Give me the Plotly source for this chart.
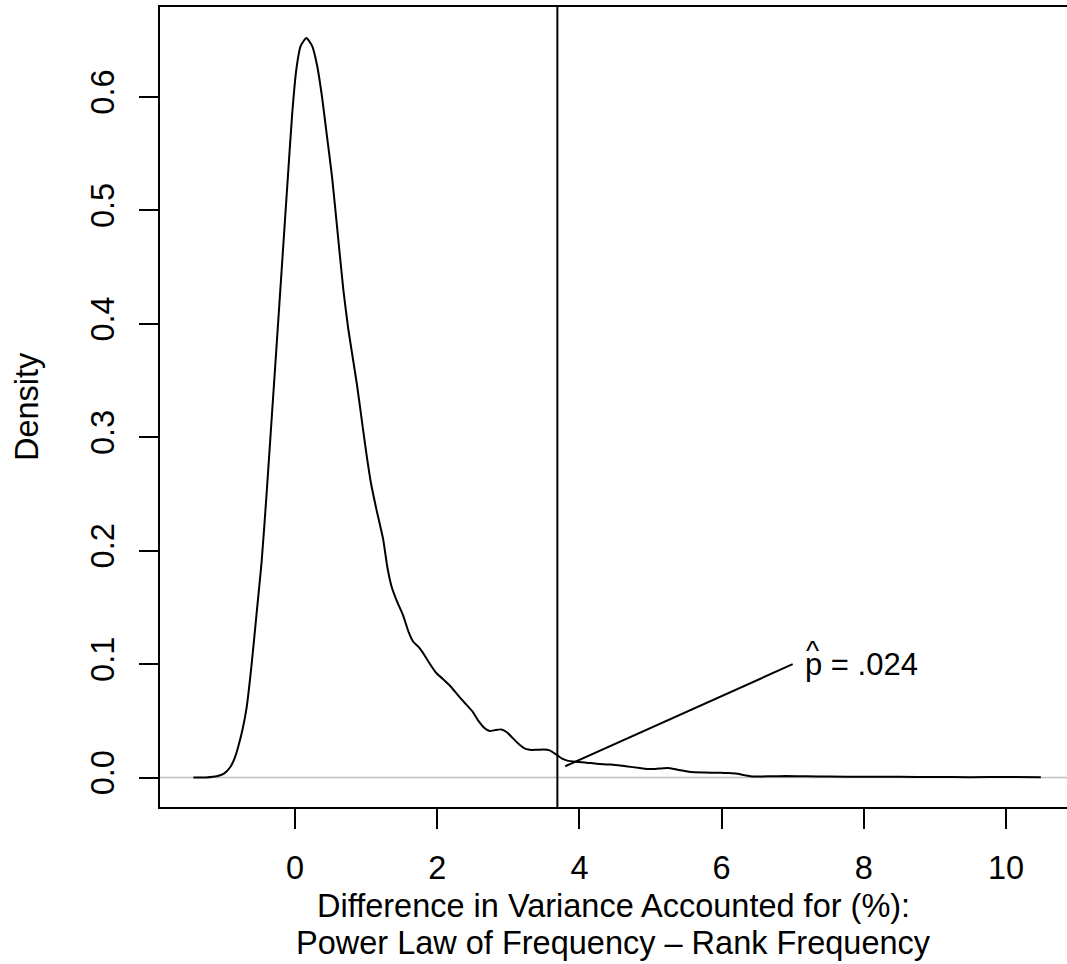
import plotly.graph_objects as go

# Density curve
dens_x = [-1.43, -1.25, -1.10, -1.00, -0.91, -0.85, -0.80, -0.74, -0.68, -0.61,
          -0.54, -0.47, -0.40, -0.33, -0.26, -0.18, -0.10, -0.04, 0.02, 0.08,
          0.16, 0.24, 0.31, 0.38, 0.45, 0.52, 0.60, 0.68, 0.75, 0.87,
          0.95, 1.01, 1.07, 1.15, 1.24, 1.30, 1.36, 1.43, 1.52, 1.60,
          1.66, 1.74, 1.80, 1.90, 1.99, 2.08, 2.18, 2.30, 2.40, 2.50,
          2.58, 2.66, 2.74, 2.82, 2.90, 2.98, 3.06, 3.14, 3.22, 3.30,
          3.40, 3.50, 3.58, 3.66, 3.75, 3.83, 3.95, 4.10, 4.25, 4.45,
          4.65, 4.85, 5.00, 5.12, 5.24, 5.38, 5.54, 5.75, 5.99, 6.10,
          6.20, 6.32, 6.45, 6.70, 6.90, 7.20, 7.50, 8.00, 8.50, 9.00,
          9.50, 10.00, 10.49]
dens_y = [0.0000, 0.0002, 0.0012, 0.0035, 0.0094, 0.0170, 0.0270, 0.0420, 0.0620, 0.1000,
          0.1450, 0.1900, 0.2500, 0.3150, 0.3800, 0.4550, 0.5300, 0.5850, 0.6250, 0.6450,
          0.6520, 0.6450, 0.6280, 0.6000, 0.5650, 0.5300, 0.4800, 0.4300, 0.3950, 0.3470,
          0.3100, 0.2830, 0.2590, 0.2350, 0.2100, 0.1850, 0.1680, 0.1560, 0.1430, 0.1280,
          0.1200, 0.1150, 0.1100, 0.1000, 0.0920, 0.0870, 0.0810, 0.0720, 0.0650, 0.0580,
          0.0500, 0.0440, 0.0410, 0.0420, 0.0425, 0.0400, 0.0350, 0.0300, 0.0260, 0.0245,
          0.0245, 0.0247, 0.0240, 0.0210, 0.0170, 0.0150, 0.0140, 0.0132, 0.0122, 0.0115,
          0.0100, 0.0085, 0.0075, 0.0080, 0.0085, 0.0070, 0.0052, 0.0045, 0.0042, 0.0040,
          0.0036, 0.0022, 0.0010, 0.0012, 0.0014, 0.0011, 0.0009, 0.0008, 0.0007, 0.0005,
          0.0004, 0.0005, 0.0004]

x_ticks = [0, 2, 4, 6, 8, 10]
y_ticks = [0.0, 0.1, 0.2, 0.3, 0.4, 0.5, 0.6]
y_tick_labels = ["0.0", "0.1", "0.2", "0.3", "0.4", "0.5", "0.6"]

observed_diff = 3.69
pointer_start = (3.80, 0.010)
pointer_end = (7.00, 0.100)
p_label = "p = .024"

x_title_1 = "Difference in Variance Accounted for (%):"
x_title_2 = "Power Law of Frequency \u2013 Rank Frequency"
y_title = "Density"

FONT = "Liberation Sans, Arial, Helvetica, sans-serif"
FS = 32.5

W, H = 1067, 964
ML, MT, MB = 160, 7, 157
PLOT_H = H - MT - MB  # 800
PLOT_BOTTOM = MT + PLOT_H  # 807

fig = go.Figure()
fig.add_trace(go.Scatter(x=dens_x, y=dens_y, mode="lines",
                         line=dict(color="black", width=2, shape="spline", smoothing=0.5),
                         hoverinfo="skip", showlegend=False))

# zero reference line (gray)
fig.add_shape(type="line", xref="paper", yref="y", x0=0, x1=1, y0=0, y1=0,
              line=dict(color="#BEBEBE", width=1.5), layer="below")
# observed value vertical line
fig.add_shape(type="line", xref="x", yref="paper", x0=observed_diff, x1=observed_diff,
              y0=0, y1=1, line=dict(color="black", width=2))
# pointer segment
fig.add_shape(type="line", xref="x", yref="y", x0=pointer_start[0], y0=pointer_start[1],
              x1=pointer_end[0], y1=pointer_end[1], line=dict(color="black", width=2))

fig.add_annotation(x=pointer_end[0], y=pointer_end[1], xref="x", yref="y",
                   text=p_label, showarrow=False, xanchor="left", yanchor="middle",
                   xshift=10, font=dict(family=FONT, size=31, color="black"))
fig.add_annotation(x=pointer_end[0], y=pointer_end[1], xref="x", yref="y",
                   text="^", showarrow=False, xanchor="left", yanchor="middle",
                   xshift=11, yshift=14, font=dict(family=FONT, size=28, color="black"))

fig.add_annotation(x=0.5, y=(PLOT_BOTTOM - 906) / PLOT_H, xref="paper", yref="paper",
                   text=x_title_1, showarrow=False, xanchor="center", yanchor="middle",
                   font=dict(family=FONT, size=FS, color="black"))
fig.add_annotation(x=0.5, y=(PLOT_BOTTOM - 943) / PLOT_H, xref="paper", yref="paper",
                   text=x_title_2, showarrow=False, xanchor="center", yanchor="middle",
                   font=dict(family=FONT, size=FS, color="black"))
fig.add_annotation(x=(27 - 160) / 907, y=0.5, xref="paper", yref="paper",
                   text=y_title, showarrow=False, textangle=-90, xanchor="center",
                   yanchor="middle", font=dict(family=FONT, size=FS, color="black"))

fig.update_layout(
    width=W, height=H,
    margin=dict(l=ML, r=0, t=MT, b=MB, pad=0),
    plot_bgcolor="white", paper_bgcolor="white",
    font=dict(family=FONT, size=FS, color="black"),
    xaxis=dict(range=[-1.899, 10.858], tickvals=x_ticks, ticktext=[str(v) for v in x_ticks],
               ticks="outside", ticklen=20, tickwidth=2, tickcolor="black",
               showline=True, linecolor="black", linewidth=2, mirror=True,
               showgrid=False, zeroline=False, ticklabelstandoff=11,
               tickfont=dict(family=FONT, size=FS)),
    yaxis=dict(range=[-0.0259, 0.6793], tickvals=y_ticks, ticktext=y_tick_labels,
               ticks="outside", ticklen=19, tickwidth=2, tickcolor="black",
               showline=True, linecolor="black", linewidth=2, mirror=False,
               showgrid=False, zeroline=False, tickangle=-90, ticklabelstandoff=12,
               tickfont=dict(family=FONT, size=FS)),
)

fig.write_html("out.html", config={"displayModeBar": False},
               post_script="document.body.style.margin='0';document.body.style.overflow='hidden';")
